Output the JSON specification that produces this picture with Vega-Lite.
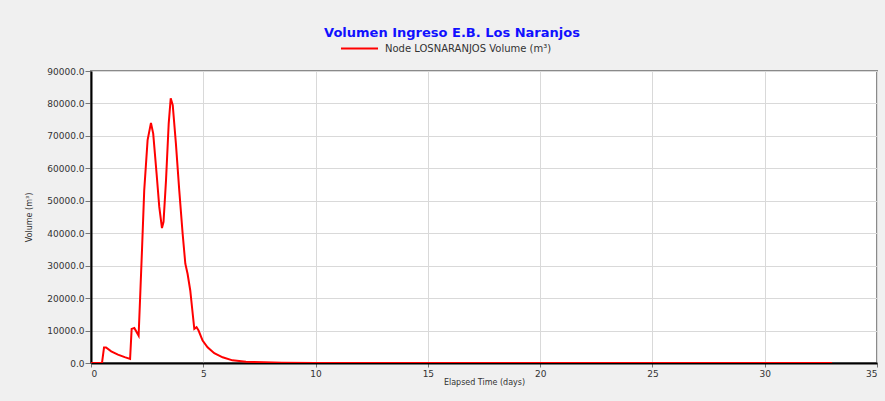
{
  "$schema": "https://vega.github.io/schema/vega-lite/v6.json",
  "width": 786,
  "height": 292,
  "autosize": {"type": "none"},
  "padding": {"left": 91, "top": 71, "right": 8, "bottom": 38},
  "background": "#f0f0f0",
  "title": {
    "text": "Volumen Ingreso E.B. Los Naranjos",
    "font": "DejaVu Sans",
    "fontSize": 13,
    "fontWeight": "bold",
    "color": "#1010ff",
    "anchor": "middle",
    "dx": -32,
    "offset": -11
  },
  "config": {
    "view": {"fill": "white", "stroke": "#8a8a8a", "strokeWidth": 2},
    "axis": {
      "labelFont": "DejaVu Sans",
      "titleFont": "DejaVu Sans",
      "labelFontSize": 9,
      "titleFontSize": 8,
      "labelColor": "#333333",
      "titleColor": "#333333",
      "titleFontWeight": "normal",
      "gridColor": "#d9d9d9",
      "gridWidth": 1,
      "domainColor": "#000000",
      "domainWidth": 2,
      "tickColor": "#777777",
      "tickSize": 6
    }
  },
  "data": {
    "values": [
      {"t": 0, "v": 0, "s": "Node LOSNARANJOS Volume (m³)"},
      {"t": 0.49, "v": 0, "s": "Node LOSNARANJOS Volume (m³)"},
      {"t": 0.58, "v": 4800, "s": "Node LOSNARANJOS Volume (m³)"},
      {"t": 0.67, "v": 4800, "s": "Node LOSNARANJOS Volume (m³)"},
      {"t": 0.9, "v": 3600, "s": "Node LOSNARANJOS Volume (m³)"},
      {"t": 1.2, "v": 2600, "s": "Node LOSNARANJOS Volume (m³)"},
      {"t": 1.5, "v": 1800, "s": "Node LOSNARANJOS Volume (m³)"},
      {"t": 1.74, "v": 1240, "s": "Node LOSNARANJOS Volume (m³)"},
      {"t": 1.81, "v": 10500, "s": "Node LOSNARANJOS Volume (m³)"},
      {"t": 1.93, "v": 10800, "s": "Node LOSNARANJOS Volume (m³)"},
      {"t": 2.12, "v": 8450, "s": "Node LOSNARANJOS Volume (m³)"},
      {"t": 2.2, "v": 22350, "s": "Node LOSNARANJOS Volume (m³)"},
      {"t": 2.27, "v": 34700, "s": "Node LOSNARANJOS Volume (m³)"},
      {"t": 2.37, "v": 53200, "s": "Node LOSNARANJOS Volume (m³)"},
      {"t": 2.52, "v": 68700, "s": "Node LOSNARANJOS Volume (m³)"},
      {"t": 2.67, "v": 74000, "s": "Node LOSNARANJOS Volume (m³)"},
      {"t": 2.77, "v": 70700, "s": "Node LOSNARANJOS Volume (m³)"},
      {"t": 2.92, "v": 58400, "s": "Node LOSNARANJOS Volume (m³)"},
      {"t": 3.04, "v": 48100, "s": "Node LOSNARANJOS Volume (m³)"},
      {"t": 3.16, "v": 41600, "s": "Node LOSNARANJOS Volume (m³)"},
      {"t": 3.23, "v": 43500, "s": "Node LOSNARANJOS Volume (m³)"},
      {"t": 3.34, "v": 56300, "s": "Node LOSNARANJOS Volume (m³)"},
      {"t": 3.46, "v": 73800, "s": "Node LOSNARANJOS Volume (m³)"},
      {"t": 3.55, "v": 81600, "s": "Node LOSNARANJOS Volume (m³)"},
      {"t": 3.64, "v": 79500, "s": "Node LOSNARANJOS Volume (m³)"},
      {"t": 3.78, "v": 67700, "s": "Node LOSNARANJOS Volume (m³)"},
      {"t": 3.93, "v": 53200, "s": "Node LOSNARANJOS Volume (m³)"},
      {"t": 4.08, "v": 39900, "s": "Node LOSNARANJOS Volume (m³)"},
      {"t": 4.2, "v": 30600, "s": "Node LOSNARANJOS Volume (m³)"},
      {"t": 4.3, "v": 27500, "s": "Node LOSNARANJOS Volume (m³)"},
      {"t": 4.42, "v": 22350, "s": "Node LOSNARANJOS Volume (m³)"},
      {"t": 4.53, "v": 15100, "s": "Node LOSNARANJOS Volume (m³)"},
      {"t": 4.6, "v": 10500, "s": "Node LOSNARANJOS Volume (m³)"},
      {"t": 4.7, "v": 11000, "s": "Node LOSNARANJOS Volume (m³)"},
      {"t": 4.79, "v": 10000, "s": "Node LOSNARANJOS Volume (m³)"},
      {"t": 4.97, "v": 6900, "s": "Node LOSNARANJOS Volume (m³)"},
      {"t": 5.19, "v": 4840, "s": "Node LOSNARANJOS Volume (m³)"},
      {"t": 5.49, "v": 3000, "s": "Node LOSNARANJOS Volume (m³)"},
      {"t": 5.86, "v": 1750, "s": "Node LOSNARANJOS Volume (m³)"},
      {"t": 6.3, "v": 820, "s": "Node LOSNARANJOS Volume (m³)"},
      {"t": 6.9, "v": 400, "s": "Node LOSNARANJOS Volume (m³)"},
      {"t": 7.7, "v": 200, "s": "Node LOSNARANJOS Volume (m³)"},
      {"t": 8.5, "v": 60, "s": "Node LOSNARANJOS Volume (m³)"},
      {"t": 10, "v": 10, "s": "Node LOSNARANJOS Volume (m³)"},
      {"t": 33, "v": 0, "s": "Node LOSNARANJOS Volume (m³)"}
    ]
  },
  "mark": {"type": "line", "strokeWidth": 2, "clip": true},
  "encoding": {
    "x": {
      "field": "t",
      "type": "quantitative",
      "scale": {"domain": [0, 35], "nice": false},
      "axis": {"values": [0, 5, 10, 15, 20, 25, 30, 35], "format": "d", "title": "Elapsed Time (days)", "titlePadding": 0, "labelPadding": 2, "tickSize": 4}
    },
    "y": {
      "field": "v",
      "type": "quantitative",
      "scale": {"domain": [0, 90000], "nice": false},
      "axis": {"values": [0, 10000, 20000, 30000, 40000, 50000, 60000, 70000, 80000, 90000], "format": ".1f", "title": "Volume (m³)", "titlePadding": 13, "labelPadding": 1}
    },
    "color": {
      "field": "s",
      "type": "nominal",
      "scale": {"range": ["#ff0000"]},
      "legend": {
        "title": null,
        "orient": "none",
        "legendX": 249,
        "legendY": -42,
        "symbolType": "stroke",
        "symbolSize": 1369,
        "symbolStrokeWidth": 2,
        "labelOffset": 6,
        "labelLimit": 400,
        "labelFont": "DejaVu Sans",
        "labelFontSize": 10,
        "labelColor": "#333333"
      }
    }
  }
}
